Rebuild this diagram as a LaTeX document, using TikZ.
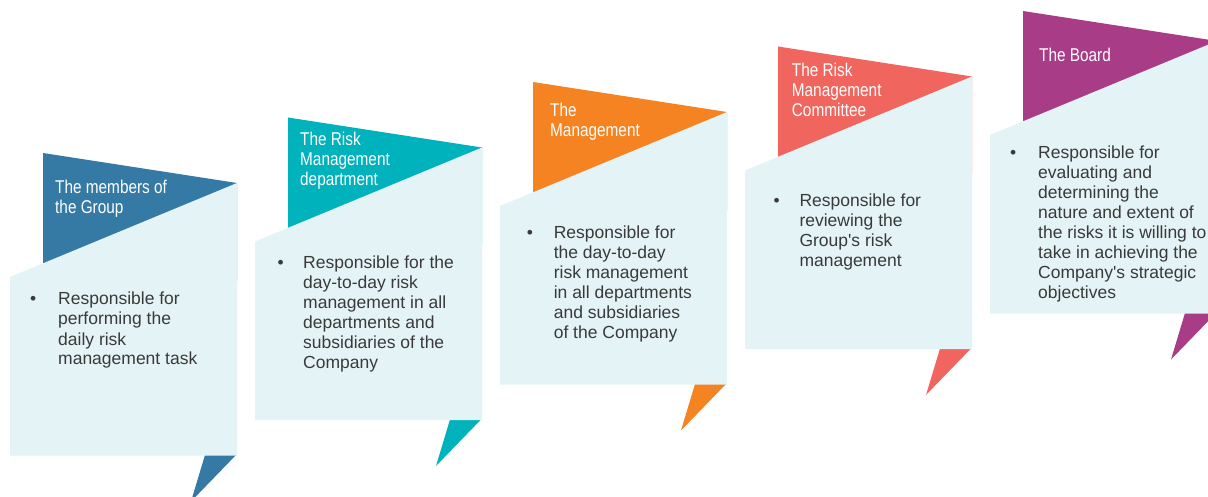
\documentclass[tikz,border=0pt]{standalone}
\usepackage{fontspec}
\setmainfont{Liberation Sans}
\newfontfamily\flagfont[FakeStretch=0.83]{Liberation Sans}

\definecolor{stepblue}{HTML}{3579A5}
\definecolor{stepteal}{HTML}{00B2BC}
\definecolor{steporange}{HTML}{F58321}
\definecolor{stepred}{HTML}{F0665E}
\definecolor{steppurple}{HTML}{A93C87}
\definecolor{panelbg}{HTML}{E4F3F5}
\definecolor{bodygray}{HTML}{3A3A3A}

\tikzset{
  panel/.style={fill=panelbg},
  flagtitle/.style={anchor=base west, inner sep=0pt, text=white,
    font=\flagfont\fontsize{18.5}{20}\selectfont},
  dutybullet/.style={anchor=base, inner sep=0pt, text=bodygray,
    font=\fontsize{17.5}{20}\selectfont},
  dutytext/.style={anchor=base west, inner sep=0pt, text=bodygray,
    font=\fontsize{17.5}{20}\selectfont},
}

% One folded ribbon: coloured flag, light panel and the tail under it.
% #1 = position in the staircase, #2 = ribbon colour
\newcommand\ribbonstep[2]{%
  \begin{scope}[shift={(245*#1,-35.5*#1)}]
    \fill[#2] (43,153) -- (237,183) -- (237,281) -- (43,281) -- cycle;
    \fill[#2] (205.3,454) -- (237,454) -- (191,501.5) -- cycle;
    \fill[panel] (10,277) -- (237,183) -- (237,455.5) -- (10,455.5) -- cycle;
  \end{scope}}

\newcommand\linesbox[1]{\parbox[t]{240pt}{\raggedright #1}}

\begin{document}
\begin{tikzpicture}[x=1pt,y=-1pt]
  \useasboundingbox (0,0) rectangle (1208,497);
  \clip (0,0) rectangle (1208,497);

  \ribbonstep{0}{stepblue}
  \ribbonstep{1}{stepteal}
  \ribbonstep{2}{steporange}
  \ribbonstep{3}{stepred}
  \ribbonstep{4}{steppurple}

  % titles on the flags
  \node[flagtitle] (t1) at (55,194)    {\linesbox{The members of\\the Group}};
  \node[flagtitle] (t2) at (300,146)   {\linesbox{The Risk\\Management\\department}};
  \node[flagtitle] (t3) at (550,116.7) {\linesbox{The\\Management}};
  \node[flagtitle] (t4) at (791.7,76.7){\linesbox{The Risk\\Management\\Committee}};
  \node[flagtitle] (t5) at (1039,61.7) {\linesbox{The Board}};

  % duties on the panels
  \node[dutybullet] (b1) at (33.3,305)    {\textbullet};
  \node[dutytext]   (d1) at (58,305)      {\linesbox{Responsible for\\performing the\\daily risk\\management task}};

  \node[dutybullet] (b2) at (280.7,268.3) {\textbullet};
  \node[dutytext]   (d2) at (303,268.3)   {\linesbox{Responsible for the\\day-to-day risk\\management in all\\departments and\\subsidiaries of the\\Company}};

  \node[dutybullet] (b3) at (530,238.3)   {\textbullet};
  \node[dutytext]   (d3) at (553.6,238.3) {\linesbox{Responsible for\\the day-to-day\\risk management\\in all departments\\and subsidiaries\\of the Company}};

  \node[dutybullet] (b4) at (776.7,206.7) {\textbullet};
  \node[dutytext]   (d4) at (799.3,206.7) {\linesbox{Responsible for\\reviewing the\\Group\textquotesingle s risk\\management}};

  \node[dutybullet] (b5) at (1013.3,158.3){\textbullet};
  \node[dutytext]   (d5) at (1038,158.3)  {\linesbox{Responsible for\\evaluating and\\determining the\\nature and extent of\\the risks it is willing to\\take in achieving the\\Company\textquotesingle s strategic\\objectives}};
\end{tikzpicture}
\end{document}
